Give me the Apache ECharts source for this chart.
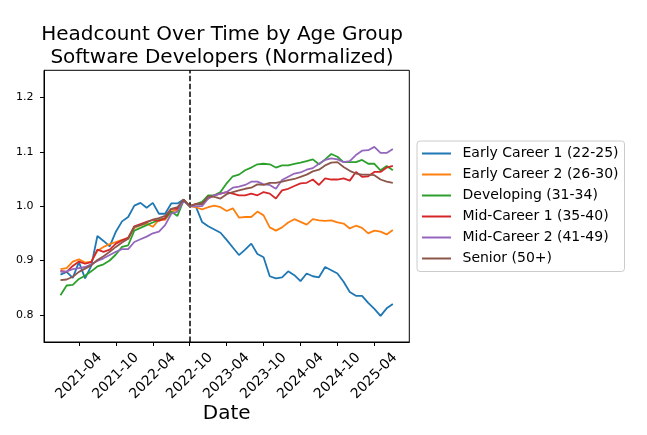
<!DOCTYPE html>
<html><head><meta charset="utf-8">
<script src="https://cdn.jsdelivr.net/npm/echarts@6/dist/echarts.min.js"></script>
<style>html,body{margin:0;padding:0;background:#fff}#c{width:647px;height:435px}</style>
</head><body><div id="c"></div>
<script>
const months = [
  '2021-01','2021-02','2021-03','2021-04','2021-05','2021-06','2021-07','2021-08','2021-09','2021-10','2021-11','2021-12',
  '2022-01','2022-02','2022-03','2022-04','2022-05','2022-06','2022-07','2022-08','2022-09','2022-10','2022-11','2022-12',
  '2023-01','2023-02','2023-03','2023-04','2023-05','2023-06','2023-07','2023-08','2023-09','2023-10','2023-11','2023-12',
  '2024-01','2024-02','2024-03','2024-04','2024-05','2024-06','2024-07','2024-08','2024-09','2024-10','2024-11','2024-12',
  '2025-01','2025-02','2025-03','2025-04','2025-05','2025-06','2025-07'
];
const tickLabels = ['2021-04','2021-10','2022-04','2022-10','2023-04','2023-10','2024-04','2024-10','2025-04'];
const yTicks = [0.8, 0.9, 1.0, 1.1, 1.2];
const baselineMonth = '2022-10';
const seriesNames = ['Early Career 1 (22-25)','Early Career 2 (26-30)','Developing (31-34)','Mid-Career 1 (35-40)','Mid-Career 2 (41-49)','Senior (50+)'];

const earlyCareer1 = [
  0.874, 0.879, 0.868, 0.897, 0.867, 0.890, 0.945, 0.936, 0.926, 0.953,
  0.972, 0.980, 1.001, 1.006, 0.997, 1.006, 0.986, 0.986, 1.005, 1.005,
  1.012, 1.000, 0.999, 0.971, 0.963, 0.957, 0.951, 0.938, 0.924, 0.910,
  0.920, 0.931, 0.912, 0.906, 0.871, 0.867, 0.869, 0.880, 0.873, 0.862,
  0.876, 0.871, 0.869, 0.888, 0.882, 0.876, 0.861, 0.842, 0.835, 0.835,
  0.822, 0.811, 0.798, 0.812, 0.820
];
const earlyCareer2 = [
  0.884, 0.886, 0.898, 0.902, 0.896, 0.898, 0.918, 0.925, 0.930, 0.934,
  0.938, 0.940, 0.960, 0.965, 0.968, 0.962, 0.975, 0.975, 0.990, 0.993,
  1.012, 1.000, 0.998, 0.994, 0.998, 1.001, 0.998, 0.991, 0.996, 0.979,
  0.980, 0.980, 0.990, 0.983, 0.961, 0.955, 0.961, 0.970, 0.976, 0.971,
  0.966, 0.976, 0.974, 0.973, 0.974, 0.970, 0.968, 0.959, 0.964, 0.960,
  0.950, 0.955, 0.953, 0.948, 0.956
];
const developing = [
  0.836, 0.854, 0.855, 0.866, 0.872, 0.880, 0.889, 0.893, 0.900, 0.911,
  0.925, 0.928, 0.955, 0.960, 0.965, 0.970, 0.975, 0.977, 0.990, 0.982,
  1.010, 1.000, 1.004, 1.008, 1.020, 1.020, 1.026, 1.042, 1.055, 1.058,
  1.066, 1.071, 1.077, 1.078, 1.077, 1.071, 1.075, 1.075, 1.078, 1.080,
  1.083, 1.086, 1.077, 1.086, 1.096, 1.091, 1.081, 1.081, 1.081, 1.085,
  1.078, 1.078, 1.066, 1.074, 1.066
];
const midCareer1 = [
  0.881, 0.879, 0.890, 0.898, 0.894, 0.897, 0.920, 0.916, 0.920, 0.931,
  0.937, 0.942, 0.963, 0.967, 0.971, 0.975, 0.973, 0.978, 0.995, 0.995,
  1.012, 1.000, 1.004, 1.005, 1.014, 1.020, 1.023, 1.026, 1.023, 1.020,
  1.020, 1.023, 1.020, 1.026, 1.023, 1.014, 1.029, 1.032, 1.037, 1.042,
  1.043, 1.049, 1.039, 1.051, 1.049, 1.049, 1.051, 1.047, 1.063, 1.054,
  1.055, 1.063, 1.063, 1.071, 1.074
];
const midCareer2 = [
  0.879, 0.880, 0.884, 0.886, 0.888, 0.893, 0.899, 0.904, 0.910, 0.916,
  0.921, 0.921, 0.934, 0.939, 0.944, 0.950, 0.953, 0.965, 0.986, 0.990,
  1.010, 1.000, 1.000, 1.000, 1.014, 1.020, 1.023, 1.026, 1.034, 1.036,
  1.039, 1.045, 1.045, 1.040, 1.039, 1.032, 1.048, 1.054, 1.060, 1.062,
  1.067, 1.070, 1.078, 1.085, 1.088, 1.086, 1.081, 1.083, 1.094, 1.102,
  1.103, 1.109, 1.098, 1.098, 1.105
];
const senior = [
  0.864, 0.865, 0.870, 0.879, 0.885, 0.891, 0.901, 0.908, 0.916, 0.925,
  0.933, 0.940, 0.962, 0.965, 0.970, 0.975, 0.978, 0.982, 0.995, 0.998,
  1.012, 1.000, 1.004, 1.004, 1.018, 1.017, 1.014, 1.022, 1.026, 1.029,
  1.032, 1.034, 1.040, 1.039, 1.043, 1.043, 1.045, 1.048, 1.050, 1.054,
  1.058, 1.064, 1.067, 1.075, 1.080, 1.081, 1.072, 1.065, 1.060, 1.058,
  1.058, 1.057, 1.049, 1.045, 1.043
];
const colors = ['#1f77b4','#ff7f0e','#2ca02c','#d62728','#9467bd','#8c564b'];

const font = 'DejaVu Sans';
const valuesList = [earlyCareer1, earlyCareer2, developing, midCareer1, midCareer2, senior];
const tickIdx = tickLabels.map(t => months.indexOf(t));
const series = seriesNames.map((name, k) => ({
  name: name,
  type: 'line',
  data: valuesList[k].map((v, i) => [i, v]),
  showSymbol: false,
  symbol: 'none',
  lineStyle: { width: 1.8, color: colors[k] },
  itemStyle: { color: colors[k] },
  z: 2 + k,
  animation: false
}));
series[series.length - 1].markLine = {
  silent: true,
  symbol: ['none', 'none'],
  label: { show: false },
  lineStyle: { type: [5.5, 2.4], color: '#000', width: 1.5 },
  data: [{ xAxis: months.indexOf(baselineMonth) }],
  animation: false
};

const chart = echarts.init(document.getElementById('c'), null, { renderer: 'canvas' });
chart.setOption({
  animation: false,
  backgroundColor: '#fff',
  title: {
    text: 'Headcount Over Time by Age Group\nSoftware Developers (Normalized)',
    left: 217, top: 18, textAlign: 'center', padding: 5,
    textStyle: { fontSize: 20, fontWeight: 'normal', color: '#000', lineHeight: 23, fontFamily: font }
  },
  legend: {
    orient: 'vertical', left: 417, top: 141,
    data: seriesNames,
    icon: 'rect', itemWidth: 29, itemHeight: 2, itemGap: 5,
    padding: [4.5, 6, 5, 5],
    borderColor: '#cccccc', borderWidth: 1, borderRadius: 3, backgroundColor: '#fff',
    textStyle: { fontFamily: font, fontSize: 14, color: '#000', lineHeight: 16, padding: [0, 0, 0, 6.5] }
  },
  grid: {
    left: 44, right: 237.7, top: 70.3, bottom: 93,
    show: true, borderColor: '#000', borderWidth: 1, backgroundColor: 'transparent'
  },
  xAxis: {
    type: 'value', min: -2.676, max: 56.676,
    splitLine: { show: false },
    axisLine: { onZero: false, lineStyle: { color: '#000', width: 1 } },
    axisTick: { customValues: tickIdx, length: 4, lineStyle: { color: '#000' } },
    axisLabel: {
      customValues: tickIdx,
      formatter: v => months[Math.round(v)],
      rotate: 45, align: 'center', verticalAlign: 'middle', margin: 34,
      fontSize: 14, color: '#000', fontFamily: font
    },
    name: 'Date', nameLocation: 'middle', nameGap: 62, nameMoveOverlap: false,
    nameTextStyle: { fontSize: 20, color: '#000', fontFamily: font }
  },
  yAxis: {
    type: 'value', min: 0.75, max: 1.25,
    splitLine: { show: false },
    axisLine: { show: true, onZero: false, lineStyle: { color: '#000', width: 1 } },
    axisTick: { show: true, customValues: yTicks, length: 4, lineStyle: { color: '#000' } },
    axisLabel: {
      customValues: yTicks,
      formatter: v => v.toFixed(1),
      fontSize: 11, margin: 10.5, color: '#000', fontFamily: font
    }
  },
  series: series
});
</script>
</body></html>
